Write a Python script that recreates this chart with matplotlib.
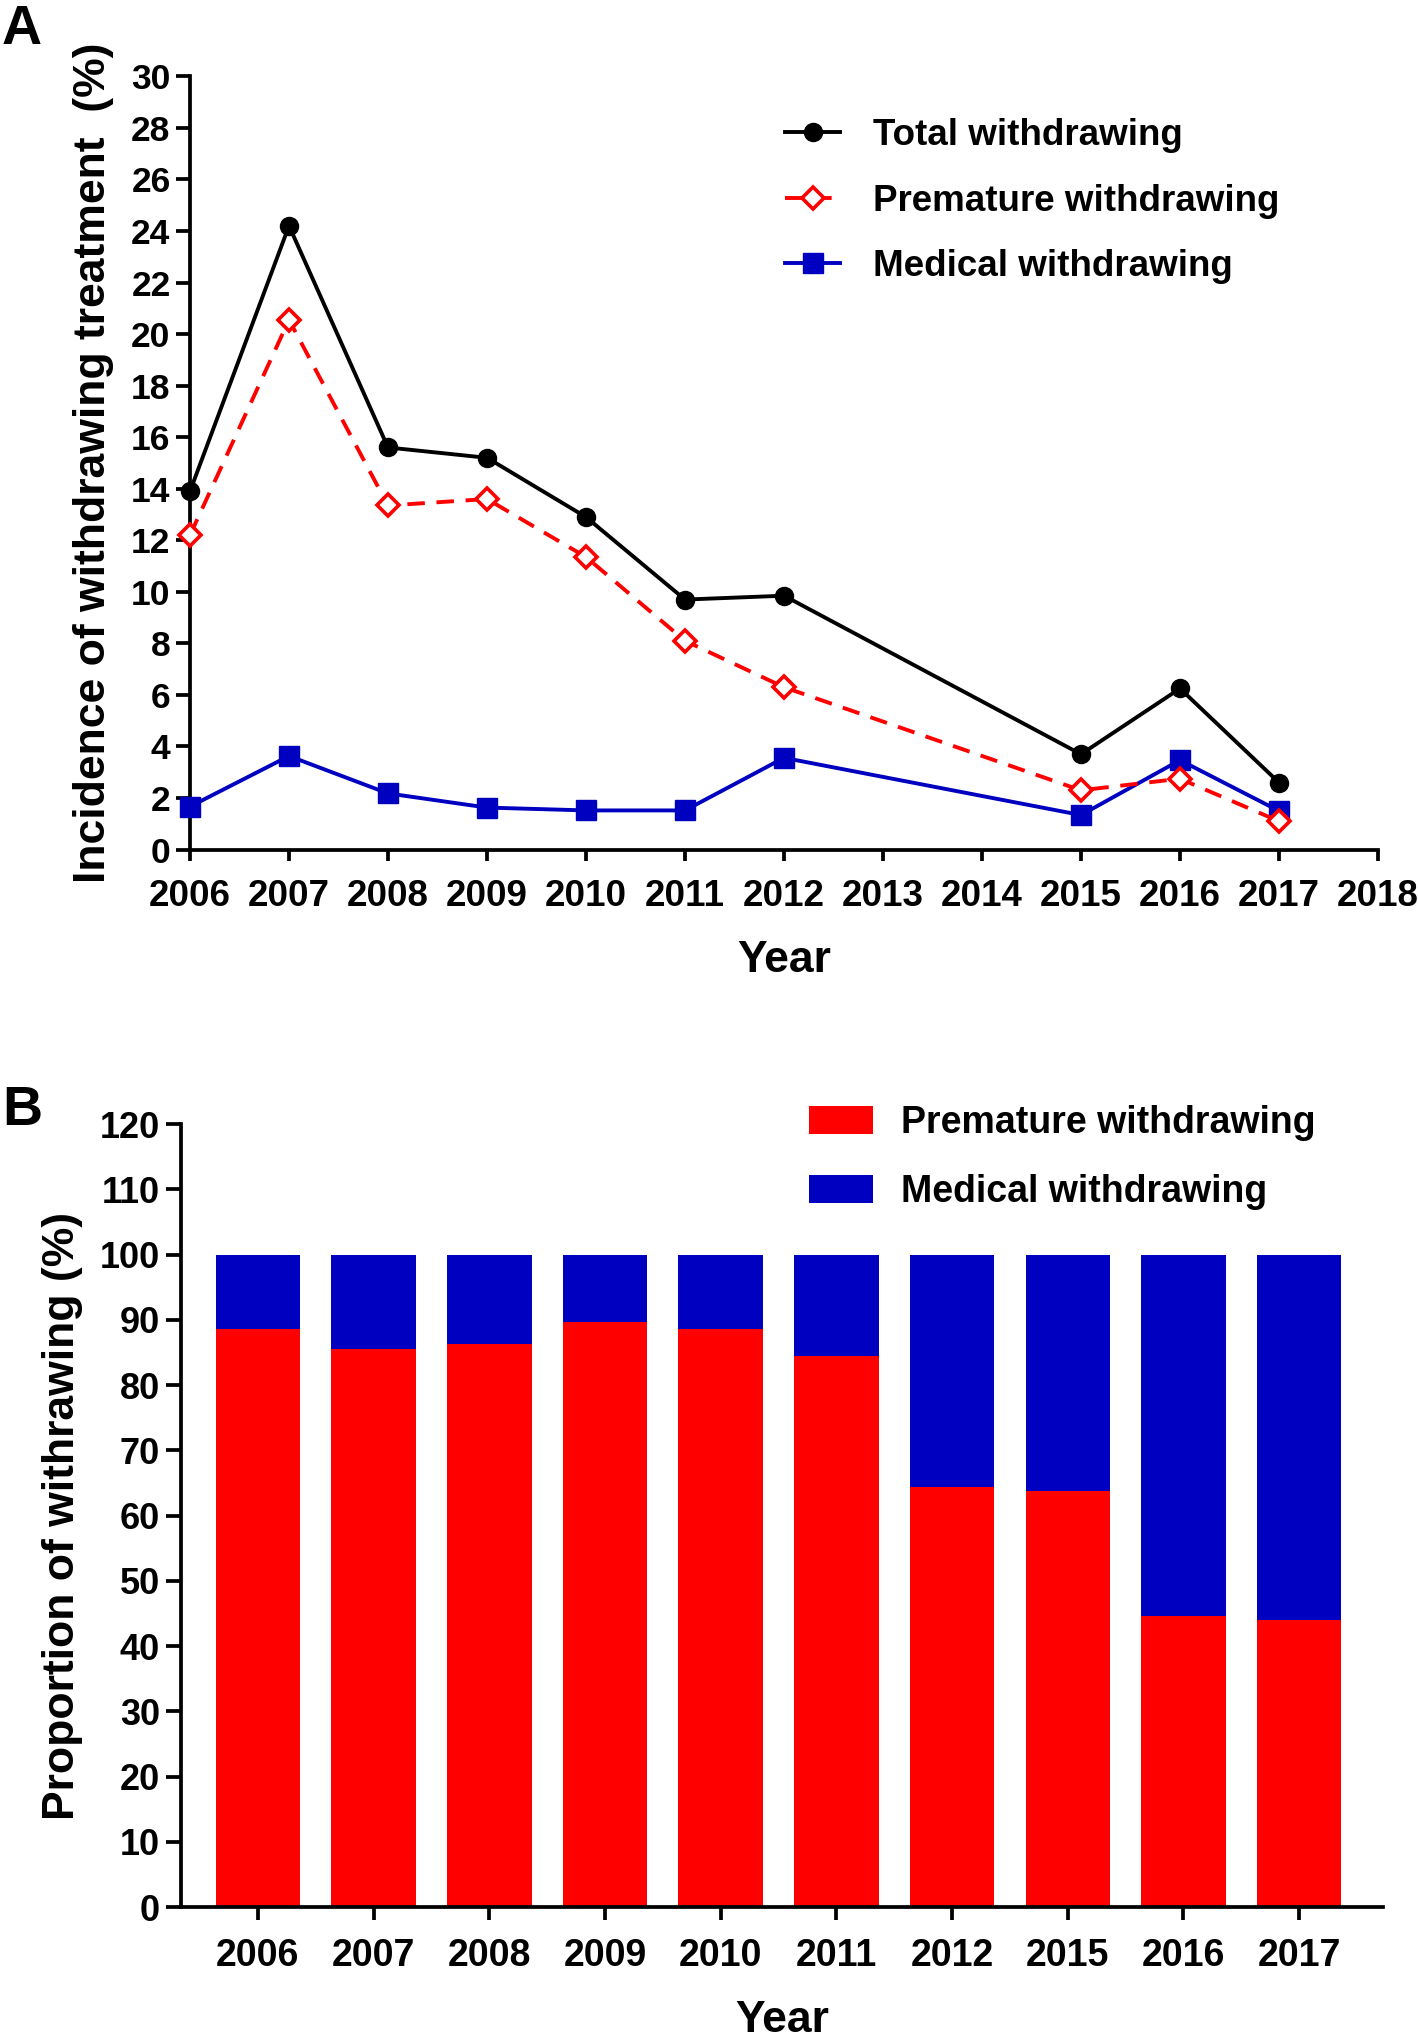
import matplotlib
matplotlib.use("Agg")
import matplotlib.pyplot as plt
import numpy as np

plt.rcParams['font.family'] = ['Liberation Sans', 'DejaVu Sans']
plt.rcParams['font.weight'] = 'bold'

# ---------------- data ----------------
years_a = [2006, 2007, 2008, 2009, 2010, 2011, 2012, 2015, 2016, 2017]
total_withdrawing = [13.9, 24.2, 15.6, 15.2, 12.9, 9.7, 9.85, 3.7, 6.25, 2.6]
premature_withdrawing = [12.2, 20.55, 13.35, 13.6, 11.35, 8.1, 6.3, 2.3, 2.75, 1.1]
medical_withdrawing = [1.67, 3.63, 2.18, 1.63, 1.52, 1.52, 3.56, 1.34, 3.47, 1.5]
xticks_a = list(range(2006, 2019))
yticks_a = list(range(0, 31, 2))

years_b = ['2006', '2007', '2008', '2009', '2010', '2011', '2012', '2015', '2016', '2017']
premature_prop = [88.6, 85.5, 86.3, 89.7, 88.6, 84.5, 64.4, 63.7, 44.6, 44.0]
medical_prop = [100 - p for p in premature_prop]
yticks_b = list(range(0, 121, 10))

RED = '#FF0000'
BLUE = '#0000C0'

W, H = 1418, 2044
fig = plt.figure(figsize=(W / 100, H / 100), dpi=100)

# ---------------- panel A ----------------
axA = fig.add_axes([190 / W, 1 - 849.6 / H, (1378 - 190) / W, (849.6 - 76.3) / H])
axA.plot(years_a, total_withdrawing, color='black', lw=2.8, marker='o', ms=13,
         clip_on=False, zorder=4, label='Total withdrawing')
axA.plot(years_a, premature_withdrawing, color=RED, lw=2.8, ls=(0, (4.5, 3)), marker='D',
         ms=11, mfc='white', mec=RED, mew=2.6, clip_on=False, zorder=5,
         label='Premature withdrawing')
axA.plot(years_a, medical_withdrawing, color=BLUE, lw=2.8, marker='s', ms=14,
         clip_on=False, zorder=3, label='Medical withdrawing')
axA.set_xlim(2006, 2018)
axA.set_ylim(0, 30)
axA.set_xticks(xticks_a)
axA.set_xticklabels([str(t) for t in xticks_a])
axA.set_yticks(yticks_a)
for s in ['top', 'right']:
    axA.spines[s].set_visible(False)
for s in ['left', 'bottom']:
    axA.spines[s].set_linewidth(2.7)
axA.tick_params(axis='y', length=10, width=2.7, labelsize=25.5, pad=4)
axA.tick_params(axis='x', length=8, width=2.7, labelsize=26.5, pad=13)
axA.set_xlabel('Year', fontsize=32, fontweight='bold', labelpad=19)
axA.set_ylabel('Incidence of withdrawing treatment  (%)', fontsize=32,
               fontweight='bold', labelpad=12)
fig.legend(handles=axA.get_lines(), loc='upper left',
           bbox_to_anchor=(785 / W, 1 - 118 / H), bbox_transform=fig.transFigure,
           frameon=False, prop={'weight': 'bold', 'size': 26.5},
           handlelength=1.5, handletextpad=0.9, labelspacing=0.83, borderpad=0,
           borderaxespad=0)

# ---------------- panel B ----------------
axB = fig.add_axes([181 / W, 1 - 1907 / H, (1383 - 181) / W, (1907 - 1124) / H])
xb = np.arange(len(years_b))
axB.bar(xb, premature_prop, width=0.73, color=RED, label='Premature withdrawing')
axB.bar(xb, medical_prop, width=0.73, bottom=premature_prop, color=BLUE,
        label='Medical withdrawing')
axB.set_xlim(-0.665, 9.725)
axB.set_ylim(0, 120)
axB.set_xticks(xb)
axB.set_xticklabels(years_b)
axB.set_yticks(yticks_b)
for s in ['top', 'right']:
    axB.spines[s].set_visible(False)
for s in ['left', 'bottom']:
    axB.spines[s].set_linewidth(2.7)
axB.tick_params(axis='y', length=11, width=2.7, labelsize=26, pad=4)
axB.tick_params(axis='x', length=9, width=2.7, labelsize=27, pad=13)
axB.set_xlabel('Year', fontsize=32, fontweight='bold', labelpad=19)
axB.set_ylabel('Proportion of withrawing (%)', fontsize=32, fontweight='bold', labelpad=12)
hB, lB = axB.get_legend_handles_labels()
fig.legend(hB, lB, loc='upper left', bbox_to_anchor=(809 / W, 1 - 1105 / H),
           bbox_transform=fig.transFigure, frameon=False,
           prop={'weight': 'bold', 'size': 27},
           handlelength=1.7, handleheight=0.8, handletextpad=0.75, labelspacing=0.88,
           borderpad=0, borderaxespad=0)

# panel letters
fig.text(2 / W, 1 - 4 / H, 'A', fontsize=40, fontweight='bold', ha='left', va='top')
fig.text(2 / W, 1 - 1085 / H, 'B', fontsize=40, fontweight='bold', ha='left', va='top')

fig.savefig('out.png', dpi=100)
